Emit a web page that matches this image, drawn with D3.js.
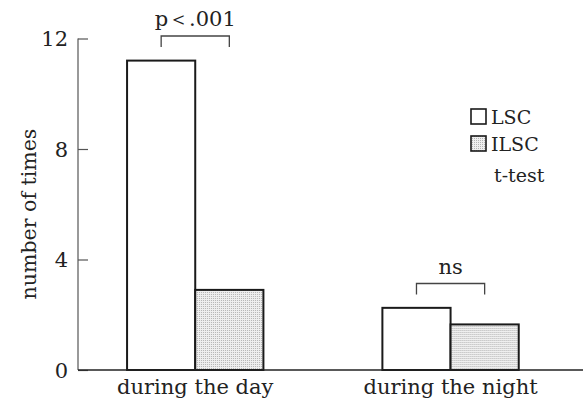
<!DOCTYPE html>
<html><head><meta charset="utf-8">
<script src="https://cdn.jsdelivr.net/npm/d3@7"></script>
<style>body{margin:0;background:#fff}svg{display:block}text{font-family:"DejaVu Serif","Liberation Serif",serif;fill:#222}</style>
</head><body><svg id="c" width="588" height="403"></svg>
<script>
const categories = ["during the day", "during the night"];
const series = ["LSC", "ILSC"];
const lscValues = [11.2, 2.25];
const ilscValues = [2.9, 1.65];
const yTicks = [0, 4, 8, 12];
const significance = ["p\uFF1C.001", "ns"];
const legendExtra = "t-test";

const svg = d3.select("#c");
const defs = svg.append("defs");
const pat = defs.append("pattern").attr("id","dots").attr("width",2).attr("height",2).attr("patternUnits","userSpaceOnUse");
pat.append("rect").attr("width",2).attr("height",2).attr("fill","#efefef");
pat.append("rect").attr("width",1).attr("height",1).attr("fill","#b4b4b4");

const y = d3.scaleLinear().domain([0,12]).range([370,38.5]);
const x0 = d3.scaleBand().domain(categories).range([76,569.8]).paddingInner(0.466).paddingOuter(0.2);
const x1 = d3.scaleBand().domain(series).range([0, x0.bandwidth()]);

// y axis
const yAxis = d3.axisRight(y).tickValues(yTicks).tickSize(10).tickFormat("");
const ga = svg.append("g").attr("transform","translate(78,0)").call(yAxis);
ga.select(".domain").attr("stroke","#555").attr("stroke-width",1.2).attr("d","M0,38.5V370");
ga.selectAll(".tick line").attr("stroke","#555").attr("stroke-width",1.2);
svg.selectAll(".ylab").data(yTicks).join("text").attr("class","ylab")
  .attr("x",68).attr("y",d=>y(d)+7.5).attr("text-anchor","end").attr("font-size",21).text(d=>d);

svg.append("text").attr("transform","translate(36,214) rotate(-90)").attr("text-anchor","middle")
  .attr("font-size",20.5).text("number of times");

// bars
const rows = categories.map((c,i)=>({c, vals:[{s:"LSC",v:lscValues[i]},{s:"ILSC",v:ilscValues[i]}]}));
const g = svg.selectAll(".grp").data(rows).join("g").attr("transform",d=>`translate(${x0(d.c)},0)`);
g.selectAll("rect").data(d=>d.vals).join("rect")
  .attr("x",d=>x1(d.s)).attr("width",x1.bandwidth())
  .attr("y",d=>y(d.v)).attr("height",d=>y(0)-y(d.v))
  .attr("fill",d=>d.s==="LSC"?"#fff":"url(#dots)")
  .attr("stroke","#1a1a1a").attr("stroke-width",2);

// baseline
svg.append("line").attr("x1",78).attr("x2",583).attr("y1",y(0)).attr("y2",y(0)).attr("stroke","#222").attr("stroke-width",1.6);

// category labels
svg.selectAll(".xlab").data(categories).join("text").attr("class","xlab")
  .attr("x",d=>x0(d)+x0.bandwidth()/2).attr("y",394).attr("text-anchor","middle").attr("font-size",21).text(d=>d);

// significance brackets
const brTop = [36, 283.5];
categories.forEach((c,i)=>{
  const cx = x0(c)+x0.bandwidth()/2;
  const half = x1.bandwidth()/2;
  const t = brTop[i];
  svg.append("path").attr("d",`M${cx-half},${t+11}V${t}H${cx+half}V${t+11}`)
    .attr("fill","none").attr("stroke","#444").attr("stroke-width",1.3);
  svg.append("text").attr("x",cx).attr("y",t-10).attr("text-anchor","middle").attr("font-size",21).text(significance[i]);
});

// legend
const leg = svg.append("g");
series.forEach((s,i)=>{
  const yy = 109 + i*27;
  leg.append("rect").attr("x",471).attr("y",yy).attr("width",15).attr("height",15)
    .attr("fill",s==="LSC"?"#fff":"url(#dots)").attr("stroke","#1a1a1a").attr("stroke-width",1.6);
  leg.append("text").attr("x",491).attr("y",yy+15).attr("font-size",19).text(s);
});
leg.append("text").attr("x",494).attr("y",182).attr("font-size",19).text(legendExtra);
</script></body></html>
